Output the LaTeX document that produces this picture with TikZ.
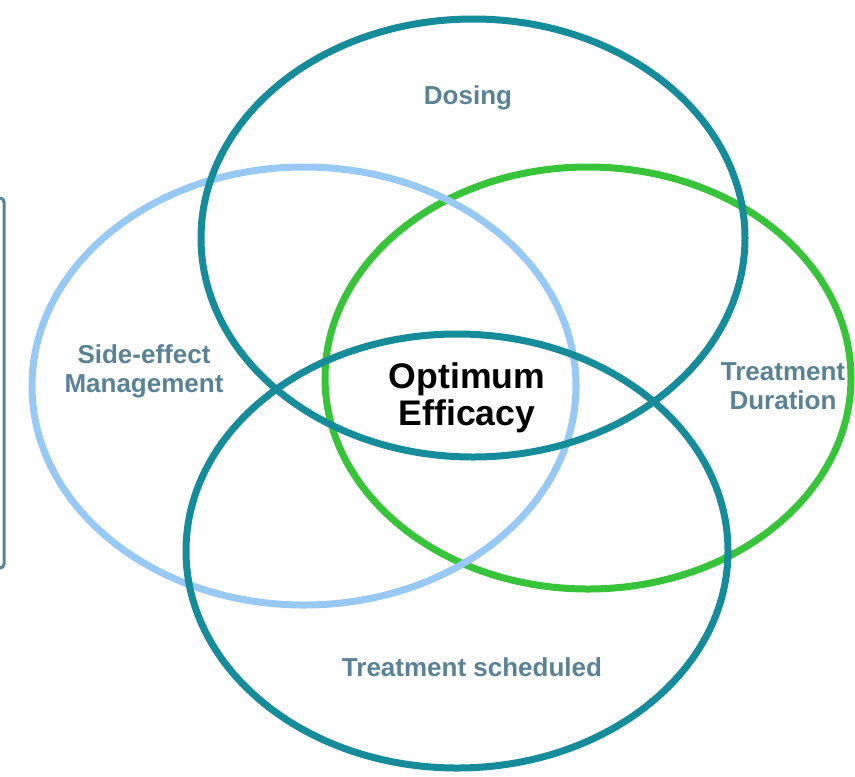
\documentclass[tikz,border=0pt]{standalone}
\usepackage{fontspec}
\setmainfont{Liberation Sans}
\usetikzlibrary{positioning}

\definecolor{ringteal}{HTML}{168C9A}
\definecolor{ringblue}{HTML}{98C9F5}
\definecolor{ringgreen}{HTML}{38C43A}
\definecolor{labelgray}{HTML}{5A8296}

\begin{document}
\begin{tikzpicture}[
    x=0.5pt, y=-0.5pt,
    every node/.style={font=\bfseries\fontsize{13}{14.5}\selectfont, align=center, inner sep=0pt},
    ring/.style={line width=3.5pt, draw=#1},
    areatext/.style={text=labelgray},
    core/.style={text=black, font=\bfseries\fontsize{17.8}{18.5}\selectfont},
    frame/.style={draw=labelgray, line width=1.5pt, rounded corners=2pt}
]
\clip (0,0) rectangle (855,776);

% Frame cut by the left edge
\draw[frame] (-60,198) rectangle (4,568);

% Ellipses
\draw[ring=ringgreen] (588,378) ellipse [x radius=263, y radius=211];
\draw[ring=ringblue] (304,386) ellipse [x radius=272, y radius=219];
\draw[ring=ringteal] (473,238) ellipse [x radius=272, y radius=219];
\draw[ring=ringteal] (457,551) ellipse [x radius=271, y radius=217];

% Nodes
\node[areatext] (dosing) at (468,98) {Dosing};
\node[areatext] (sideeffect) at (144,371) {Side-effect\\Management};
\node[areatext] (duration) at (783,386) {Treatment\\Duration};
\node[areatext] (scheduled) at (472,667) {Treatment scheduled};
\node[core] (efficacy) at (467,398) {Optimum\\Efficacy};

\end{tikzpicture}
\end{document}
